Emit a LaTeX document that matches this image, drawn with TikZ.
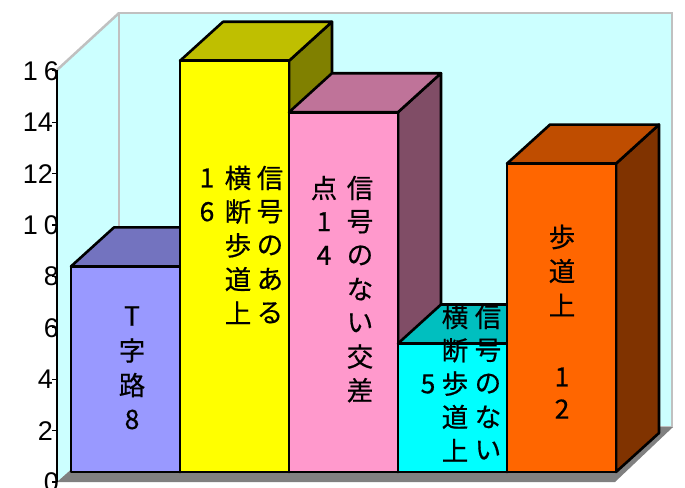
\documentclass[tikz,border=0pt]{standalone}
\usepackage{fontspec}
\setmainfont{Liberation Sans}
\newfontfamily\jpfont[FakeBold=0.5]{Noto Sans CJK JP}
\usepackage{tikz}

\definecolor{wallcyan}{HTML}{CCFFFF}
\definecolor{wallgray}{HTML}{C0C0C0}
\definecolor{floorgray}{HTML}{808080}
\definecolor{bluf}{HTML}{9999FF}
\definecolor{blut}{HTML}{7373BF}
\definecolor{blus}{HTML}{4D4D80}
\definecolor{yelf}{HTML}{FFFF00}
\definecolor{yelt}{HTML}{BFBF00}
\definecolor{yels}{HTML}{808000}
\definecolor{pnkf}{HTML}{FF99CC}
\definecolor{pnkt}{HTML}{BF7399}
\definecolor{pnks}{HTML}{804D66}
\definecolor{cynf}{HTML}{00FFFF}
\definecolor{cynt}{HTML}{00BFBF}
\definecolor{cyns}{HTML}{008080}
\definecolor{orgf}{HTML}{FF6600}
\definecolor{orgt}{HTML}{BF4D00}
\definecolor{orgs}{HTML}{803300}

\tikzset{
  wallline/.style={draw=wallgray, line width=2.5pt},
  barline/.style={draw=black, line width=2.6pt, line join=round},
  tate/.style={font=\jpfont\fontsize{26.5}{26.5}\selectfont, inner sep=0pt},
  ticklbl/.style={font=\fontsize{27}{27}\selectfont, anchor=east, inner sep=0pt},
}

\begin{document}
\begin{tikzpicture}[x=1pt,y=-1pt]
\useasboundingbox (0,0) rectangle (685,487);
% walls and floor
\fill[wallcyan] (57,70) -- (119,13) -- (119,427) -- (57,482) -- cycle;
\draw[wallline, fill=wallcyan] (119,13) rectangle (672,427);
\draw[wallline] (57,70) -- (119,13);
\fill[floorgray] (57,482) -- (615,482) -- (673,427) -- (119,427) -- cycle;
% bars: front width 109, depth (43,-39), 25.7 per unit
\foreach \i/\v/\cf/\ct/\cs in {0/8/bluf/blut/blus, 1/16/yelf/yelt/yels, 2/14/pnkf/pnkt/pnks, 3/5/cynf/cynt/cyns, 4/12/orgf/orgt/orgs}{
  \pgfmathsetmacro{\xa}{71+109*\i}
  \pgfmathsetmacro{\xb}{\xa+109}
  \pgfmathsetmacro{\yt}{472-25.7*\v}
  \draw[barline, fill=\cs] (\xb,\yt) -- ++(43,-39) -- (\xb+43,433) -- (\xb,472) -- cycle;
  \draw[barline, fill=\ct] (\xa,\yt) -- ++(43,-39) -- (\xb+43,\yt-39) -- (\xb,\yt) -- cycle;
  \draw[barline, fill=\cf] (\xa,\yt) rectangle (\xb,472);
}
% axis
\draw[line width=1.2pt] (57,70) -- (57,482);
\foreach \v/\t/\e in {0/0/59, 2/2/53, 4/4/53, 6/6/59, 8/8/59, 10/{1\kern6pt 0}/59, 12/12/53, 14/14/53, 16/{1\kern6pt 6}/59}{
  \draw[line width=1.2pt] (52,482-25.7*\v) -- (57,482-25.7*\v);
  \node[ticklbl] (y\v) at (\e,482-25.7*\v) {\t};
}
% T-junction
\foreach \ch [count=\n from 0] in {T,字,路,8}
  \node[tate] (ta\n) at (132,316+34.5*\n) {\ch};
% crosswalk with signal
\foreach \ch [count=\n from 0] in {信,号,の,あ,る}
  \node[tate] (sa\n) at (270,178+33.7*\n) {\ch};
\foreach \ch [count=\n from 0] in {横,断,歩,道,上}
  \node[tate] (sb\n) at (238,178+33.7*\n) {\ch};
\foreach \ch [count=\n from 0] in {1,6}
  \node[tate] (sc\n) at (207,178+33.7*\n) {\ch};
% intersection without signal
\foreach \ch [count=\n from 0] in {信,号,の,な,い,交,差}
  \node[tate] (ka\n) at (360,188+33.7*\n) {\ch};
\foreach \ch [count=\n from 0] in {点,1,4}
  \node[tate] (kb\n) at (324,188+33.7*\n) {\ch};
% crosswalk without signal
\foreach \ch [count=\n from 0] in {信,号,の,な,い}
  \node[tate] (na\n) at (488,317+33.3*\n) {\ch};
\foreach \ch [count=\n from 0] in {横,断,歩,道,上}
  \node[tate] (nb\n) at (455,317+33.3*\n) {\ch};
\node[tate] (nc) at (428,384) {5};
% sidewalk
\foreach \ch [count=\n from 0] in {歩,道,上}
  \node[tate] (ha\n) at (562,237+34*\n) {\ch};
\node[tate] (hb0) at (562,377) {1};
\node[tate] (hb1) at (562,409) {2};
\end{tikzpicture}
\end{document}
